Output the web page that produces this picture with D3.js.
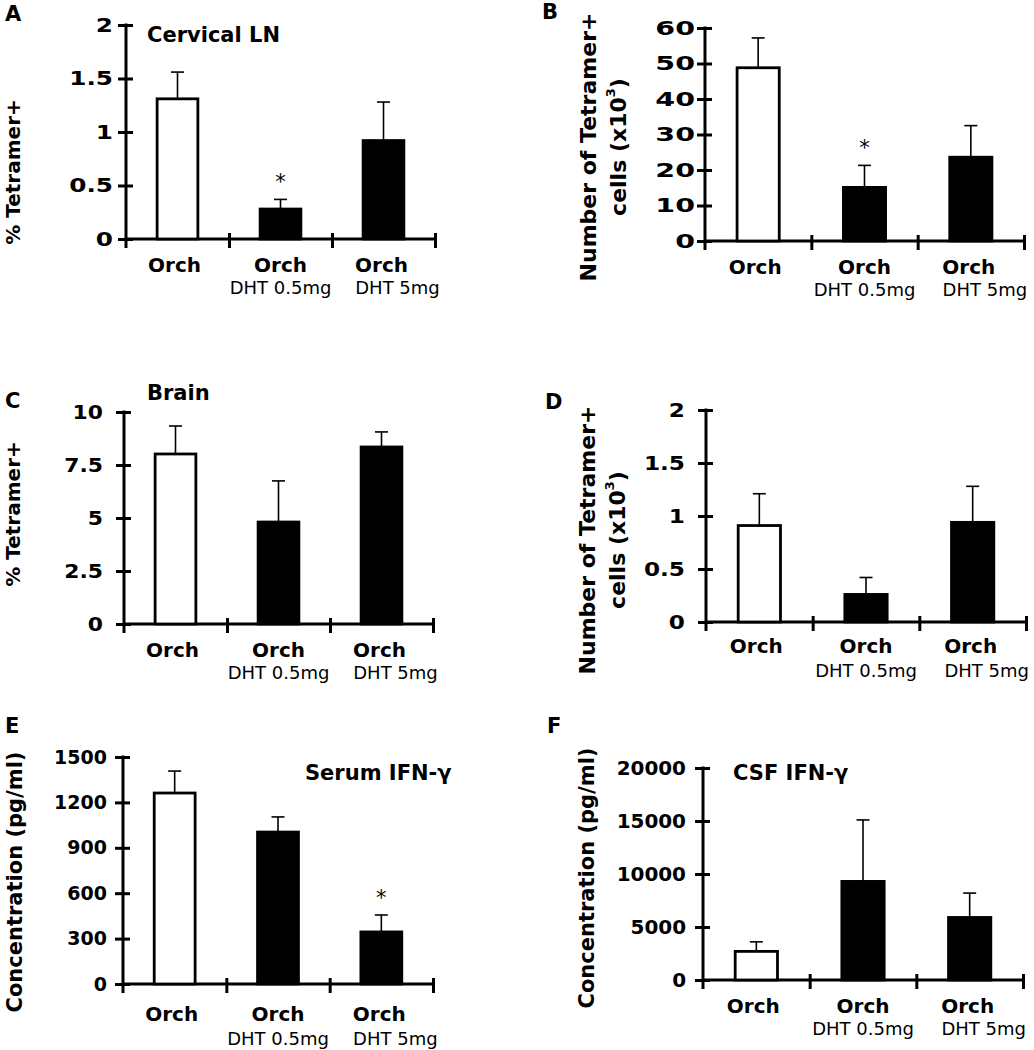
<!DOCTYPE html>
<html>
<head>
<meta charset="utf-8">
<script src="https://cdn.jsdelivr.net/npm/d3@7/dist/d3.min.js"></script>
<style>
  html, body { margin: 0; padding: 0; background: #fff; }
  svg { display: block; font-family: "DejaVu Sans", Verdana, sans-serif; }
</style>
</head>
<body>
<svg id="chart" width="1034" height="1050"></svg>
<script>
// ---------- data ----------
const categories = ["Orch", "Orch DHT 0.5mg", "Orch DHT 5mg"];
const labelLine1 = ["Orch", "Orch", "Orch"];
const labelLine2 = ["", "DHT 0.5mg", "DHT 5mg"];

const panelLetters = ["A", "B", "C", "D", "E", "F"];
const panelTitles = ["Cervical LN", "", "Brain", "", "Serum IFN-\u03b3", "CSF IFN-\u03b3"];

const aValues = [1.31, 0.28, 0.92];
const aSem    = [0.25, 0.09, 0.36];
const aTicks  = [0, 0.5, 1, 1.5, 2];

const bValues = [48.8, 15.1, 23.6];
const bSem    = [8.4, 6.2, 8.9];
const bTicks  = [0, 10, 20, 30, 40, 50, 60];

const cValues = [8.02, 4.81, 8.35];
const cSem    = [1.32, 1.94, 0.71];
const cTicks  = [0, 2.5, 5, 7.5, 10];

const dValues = [0.91, 0.26, 0.94];
const dSem    = [0.30, 0.16, 0.34];
const dTicks  = [0, 0.5, 1, 1.5, 2];

const eValues = [1262, 1004, 344];
const eSem    = [145, 100, 112];
const eTicks  = [0, 300, 600, 900, 1200, 1500];

const fValues = [2700, 9300, 5900];
const fSem    = [900, 5800, 2300];
const fTicks  = [0, 5000, 10000, 15000, 20000];

const significant = [[false, true, false], [false, true, false], [false, false, false],
                     [false, false, false], [false, false, true], [false, false, false]];

// ---------- layout ----------
const layout = [
  { x0: 126, x1: 435, yTop: 25,  yBase: 239, off: 13, sx: 1.3,
    ylab: { lines: ["% Tetramer+"], xs: [13], cy: 172, fs: 20 },
    letter: [5, 21], title: [147, 42], xl1: 33, xl2: 55 },
  { x0: 705, x1: 1024, yTop: 28, yBase: 241, off: 10, sx: 1.5,
    ylab: { lines: ["Number of Tetramer+", "cells"], xs: [588, 618], cy: 147, fs: 22 },
    letter: [542, 19], title: null, xl1: 33, xl2: 55 },
  { x0: 124, x1: 433, yTop: 412, yBase: 624, off: 21, sx: 1.15,
    ylab: { lines: ["% Tetramer+"], xs: [13], cy: 514, fs: 20 },
    letter: [5, 408], title: [147, 400], xl1: 33, xl2: 55 },
  { x0: 706, x1: 1026, yTop: 410, yBase: 622, off: 21, sx: 1.22,
    ylab: { lines: ["Number of Tetramer+", "cells"], xs: [587, 617], cy: 540, fs: 22 },
    letter: [545, 409], title: null, xl1: 31, xl2: 55 },
  { x0: 123, x1: 433, yTop: 757, yBase: 984, off: 16, sx: 1.0,
    ylab: { lines: ["Concentration (pg/ml)"], xs: [15], cy: 882, fs: 21 },
    letter: [5, 733], title: [305, 780], xl1: 37, xl2: 61 },
  { x0: 703, x1: 1023, yTop: 768, yBase: 980, off: 17, sx: 1.05,
    ylab: { lines: ["Concentration (pg/ml)"], xs: [587], cy: 878, fs: 21 },
    letter: [547, 733], title: [733, 780], xl1: 33, xl2: 55 }
];

const panelData = [
  { values: aValues, sem: aSem, ticks: aTicks },
  { values: bValues, sem: bSem, ticks: bTicks },
  { values: cValues, sem: cSem, ticks: cTicks },
  { values: dValues, sem: dSem, ticks: dTicks },
  { values: eValues, sem: eSem, ticks: eTicks },
  { values: fValues, sem: fSem, ticks: fTicks }
];

const line1Offset = [-3, 0, -2];
const line2Offset = [0, 0, 14];

const svg = d3.select("#chart");

panelData.forEach((pd, pi) => {
  const L = layout[pi];
  const g = svg.append("g");
  const yMax = pd.ticks[pd.ticks.length - 1];
  const y = d3.scaleLinear().domain([0, yMax]).range([L.yBase, L.yTop]);
  const x = d3.scaleBand().domain(categories).range([L.x0, L.x1])
    .paddingInner(0.58).paddingOuter(0.29);
  const xb = d3.scaleLinear().domain([0, categories.length]).range([L.x0, L.x1]);

  // y axis
  const yAxis = d3.axisLeft(y).tickValues(pd.ticks).tickSizeInner(8).tickSizeOuter(0)
    .tickPadding(L.off - 8).tickFormat(d => String(d));
  const ya = g.append("g").attr("transform", `translate(${L.x0},0)`).call(yAxis);
  ya.select(".domain").remove();
  ya.selectAll(".tick line").attr("x1", 7).attr("x2", -8)
    .attr("stroke", "#000").attr("stroke-width", 3);
  ya.selectAll(".tick text").attr("fill", "#000")
    .attr("x", 0)
    .attr("transform", `translate(${-L.off},0) scale(${L.sx},1)`)
    .style("font-size", "19px").style("font-weight", "bold")
    .style("font-family", "'DejaVu Sans', sans-serif");
  g.append("line").attr("x1", L.x0).attr("x2", L.x0)
    .attr("y1", L.yTop - 1.5).attr("y2", L.yBase + 9)
    .attr("stroke", "#000").attr("stroke-width", 3);

  // x axis (category boundary ticks)
  const xAxis = d3.axisBottom(xb).tickValues(d3.range(1, categories.length + 1))
    .tickFormat("").tickSizeOuter(0);
  const xa = g.append("g").attr("transform", `translate(0,${L.yBase})`).call(xAxis);
  xa.select(".domain").remove();
  xa.selectAll(".tick line").attr("y1", -6).attr("y2", 9)
    .attr("stroke", "#000").attr("stroke-width", 3);
  g.append("line").attr("x1", L.x0).attr("x2", L.x1 + 1.5)
    .attr("y1", L.yBase).attr("y2", L.yBase)
    .attr("stroke", "#000").attr("stroke-width", 3);

  // error bars
  const cx = i => x(categories[i]) + x.bandwidth() / 2;
  pd.values.forEach((v, i) => {
    const top = y(v + pd.sem[i]);
    g.append("line").attr("x1", cx(i)).attr("x2", cx(i))
      .attr("y1", y(v)).attr("y2", top)
      .attr("stroke", "#000").attr("stroke-width", 1.6);
    g.append("line").attr("x1", cx(i) - 6.5).attr("x2", cx(i) + 6.5)
      .attr("y1", top).attr("y2", top)
      .attr("stroke", "#000").attr("stroke-width", 1.6);
    if (significant[pi][i]) {
      g.append("text").attr("x", cx(i)).attr("y", top - 10)
        .attr("text-anchor", "middle").style("font-size", "21px")
        .attr("fill", "#000").text("*");
    }
  });

  // bars
  g.selectAll("rect.bar").data(pd.values).join("rect").attr("class", "bar")
    .attr("x", (d, i) => x(categories[i]) + 1.25)
    .attr("width", x.bandwidth() - 2.5)
    .attr("y", d => y(d))
    .attr("height", d => L.yBase - y(d))
    .attr("fill", (d, i) => i === 0 ? "#fff" : "#000")
    .attr("stroke", "#000").attr("stroke-width", 2.8);

  // category labels
  categories.forEach((c, i) => {
    g.append("text").attr("x", cx(i) + line1Offset[i]).attr("y", L.yBase + L.xl1)
      .attr("text-anchor", "middle").style("font-size", "20px").style("font-weight", "bold")
      .attr("fill", "#000").text(labelLine1[i]);
    if (labelLine2[i]) {
      g.append("text").attr("x", cx(i) + line2Offset[i]).attr("y", L.yBase + L.xl2)
        .attr("text-anchor", "middle").style("font-size", "18px")
        .attr("fill", "#000").text(labelLine2[i]);
    }
  });

  // y label
  L.ylab.lines.forEach((t, li) => {
    const tx = g.append("text")
      .attr("transform", `translate(${L.ylab.xs[li]},${L.ylab.cy}) rotate(-90)`)
      .attr("text-anchor", "middle").attr("dominant-baseline", "central")
      .style("font-size", L.ylab.fs + "px").style("font-weight", "bold").attr("fill", "#000");
    if (t === "cells") {
      tx.append("tspan").text("cells (x10");
      tx.append("tspan").attr("dy", -8).style("font-size", "13px").text("3");
      tx.append("tspan").attr("dy", 8).text(")");
    } else {
      tx.text(t);
    }
  });

  // panel letter
  g.append("text").attr("x", L.letter[0]).attr("y", L.letter[1])
    .style("font-size", "21px").style("font-weight", "bold").attr("fill", "#000")
    .text(panelLetters[pi]);

  // title
  if (L.title && panelTitles[pi]) {
    g.append("text").attr("x", L.title[0]).attr("y", L.title[1])
      .style("font-size", "21px").style("font-weight", "bold").attr("fill", "#000")
      .text(panelTitles[pi]);
  }
});
</script>
</body>
</html>
